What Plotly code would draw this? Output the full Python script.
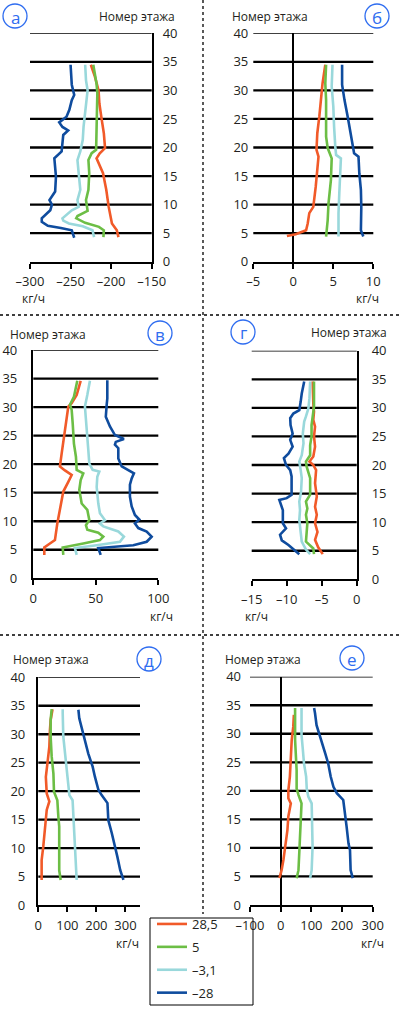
import plotly.graph_objects as go

W, H = 399, 1009
FONT = "Open Sans"
TXT = "#231f20"
BLUE_MARK = "#2f6df0"

SERIES_NAMES = ["28,5", "5", "–3,1", "–28"]
SERIES_COLORS = ["#f15a29", "#6cbe45", "#99d8db", "#0f4c9e"]

# (floor, flow kg/h) pairs per panel and series
A_285 = [(4.3,-191),(5.5,-193),(6.7,-199),(9.6,-203),(12.6,-206),(15.5,-210),(18.1,-218),(19.0,-214),(19.9,-207.5),(22.5,-209),(24.8,-211.5),(27.7,-214.5),(30.0,-215.5),(32.4,-220),(34.5,-225)]
A_5 = [(4.3,-209.5),(5.5,-209),(6.1,-215),(6.8,-232),(7.6,-243),(8.0,-241.5),(8.9,-229),(10.8,-231),(12.6,-228),(15.5,-227),(17.8,-228),(19.0,-224),(19.6,-218.5),(22.5,-218),(26.0,-218),(29.5,-217),(31.2,-218),(34.5,-222)]
A_M31 = [(4.3,-221),(5.5,-223),(6.2,-235),(6.7,-252),(7.2,-259),(7.6,-260),(9.0,-248.5),(9.6,-240),(10.8,-241.5),(12.6,-238),(15.5,-240),(17.8,-241.5),(19.3,-238),(21.3,-235),(23.6,-234),(26.6,-232),(30.0,-229),(31.8,-231),(34.5,-232)]
A_M28 = [(4.2,-245.5),(5.5,-248.5),(5.9,-262),(6.3,-278),(7.0,-285.5),(7.6,-285.5),(9.0,-275),(10.0,-273),(10.8,-276),(12.3,-269),(14.9,-268),(18.1,-270),(19.3,-261),(20.7,-260),(22.2,-259),(23.0,-253),(23.6,-260),(24.4,-264),(25.4,-255),(26.6,-251.5),(28.3,-248.5),(29.2,-245.5),(31.0,-248.5),(34.5,-250)]

B_285 = [(4.5,-0.8),(4.8,0.3),(5.5,1.6),(6.7,1.8),(8.5,2.0),(9.6,2.5),(13.1,2.8),(16.6,3.05),(18.4,3.15),(19.6,2.9),(22.5,3.0),(25.4,3.25),(28.3,3.45),(31.2,3.65),(34.5,4.0)]
B_5 = [(4.4,4.1),(7.3,4.3),(10.2,4.4),(14.3,4.7),(18.1,4.8),(19.9,4.3),(21.9,4.1),(28.3,4.1),(31.2,4.0),(34.5,4.1)]
B_M31 = [(4.4,5.65),(8.5,5.65),(12.0,5.75),(15.5,5.85),(18.1,5.95),(18.7,5.35),(20.1,5.25),(23.6,5.1),(27.2,5.0),(30.7,4.8),(34.5,4.9)]
B_M28 = [(4.4,8.75),(5.5,8.45),(9.6,8.5),(12.6,8.45),(15.5,8.25),(18.4,8.15),(19.0,7.6),(20.7,7.4),(22.5,7.2),(25.4,6.8),(28.3,6.4),(31.0,6.1),(34.5,6.1)]

V_285 = [(4.1,8.8),(5.4,8.8),(6.1,13.3),(6.7,17.3),(9.6,19.2),(13.1,21.9),(15.2,24),(16.9,28),(18.1,30.7),(18.9,25.3),(19.6,21.3),(21.9,22.7),(24.8,24.5),(27.2,26.1),(30.1,28),(30.7,30.7),(32.1,34.7),(34.6,37.9)]
V_5 = [(4.1,24),(5.4,23.5),(6.1,40),(6.7,53.3),(7.3,56),(8.0,52),(8.5,43.2),(9.3,42.1),(10.2,44.8),(12.0,43.2),(13.1,38.7),(15.5,36.8),(17.2,37.9),(18.4,40),(18.7,37.3),(19.0,34.7),(21.3,34.1),(23.6,32.5),(27.2,31.5),(29.5,30.7),(30.4,29.3),(31.8,32.5),(34.6,35.2)]
V_M31 = [(4.1,34.7),(5.3,33.3),(5.8,50.7),(6.4,69.3),(7.3,72.5),(8.2,68),(9.1,56),(9.6,53.3),(10.2,57.3),(11.4,53.3),(13.1,52),(16.0,50.7),(17.8,51.2),(18.7,52.8),(19.0,47.5),(20.1,44.8),(22.5,44),(25.4,43.2),(28.9,42.1),(30.1,41.3),(32.1,43.2),(34.6,45.3)]
V_M28 = [(4.1,53.9),(5.3,52),(5.8,80),(6.4,90.7),(7.3,94.7),(8.2,90.7),(8.8,84),(9.6,81.3),(10.3,84.8),(11.1,81.3),(12.6,78.7),(14.3,77.3),(16.4,77.3),(17.5,78.7),(18.4,80.5),(19.0,76),(19.6,70.7),(21.0,68),(22.8,68),(23.4,65.3),(23.9,66),(24.4,72.5),(25.1,65.3),(26.6,61.3),(28.3,58),(30.4,58.7),(31.5,59.2),(34.7,59.2)]

G_285 = [(4.4,-4.85),(5.6,-5.5),(6.9,-5.95),(8.3,-5.6),(9.8,-5.95),(11.3,-5.7),(12.7,-5.95),(14.5,-5.7),(16.8,-5.95),(19.1,-5.8),(20.0,-6.2),(20.6,-6.75),(21.5,-6.2),(23.2,-5.95),(25.0,-6.1),(26.7,-5.95),(27.9,-6.2),(29.3,-6.1),(30.8,-6.2),(34.6,-6.3)]
G_5 = [(4.4,-6.1),(5.4,-6.2),(6.6,-7.25),(8.0,-7.15),(9.8,-7.05),(11.3,-7.25),(12.4,-7.05),(13.6,-7.25),(14.8,-6.65),(17.7,-6.65),(19.7,-7.15),(20.6,-7.25),(21.7,-6.65),(23.5,-6.65),(25.0,-6.45),(27.0,-6.45),(29.0,-6.2),(30.2,-6.1),(34.6,-6.1)]
G_M31 = [(4.4,-6.65),(5.2,-7.25),(6.6,-7.85),(8.6,-8.0),(10.4,-8.2),(12.1,-8.1),(13.6,-8.2),(15.3,-7.95),(17.7,-7.85),(19.1,-8.0),(20.6,-8.2),(21.7,-7.85),(23.8,-7.6),(25.5,-7.7),(27.6,-7.5),(28.5,-7.25),(29.9,-6.9),(31.7,-6.75),(34.6,-6.65)]
G_M28 = [(4.4,-8.2),(5.2,-8.95),(6.0,-9.75),(6.8,-10.7),(7.8,-10.95),(8.9,-10.1),(9.8,-10.55),(12.1,-10.55),(13.3,-10.85),(13.9,-11.05),(14.2,-10.0),(14.8,-9.3),(18.0,-9.3),(19.1,-9.5),(20.0,-10.1),(21.2,-10.4),(22.0,-9.75),(23.2,-9.15),(24.4,-9.5),(25.5,-9.15),(27.0,-9.45),(28.2,-9.5),(29.0,-9.05),(29.6,-8.2),(31.1,-8.0),(32.5,-7.85),(34.6,-7.5)]

D_285 = [(4.4,11.5),(7.9,11.5),(10.2,17),(13.2,23),(15.5,26),(16.7,29),(18.2,38),(19.6,29),(22.5,26),(24.9,31),(27.8,38),(30.7,40),(32.5,42.5),(34.4,49)]
D_5 = [(4.4,77),(6.1,72),(10.8,72),(13.8,72),(15.5,69),(18.4,65.5),(19.9,54),(23.1,52),(26.1,46),(29.6,42.5),(32.5,42.5),(34.4,46)]
D_M31 = [(4.4,132),(6.4,130),(10.2,126),(12.9,123),(15.5,121),(18.4,118),(19.3,107),(21.4,103),(24.3,98),(26.6,92),(29.6,86),(33.7,84),(34.4,84)]
D_M28 = [(4.4,293),(6.1,282),(8.5,272),(10.5,264),(12.6,253),(14.9,241),(17.9,238),(19.3,218),(20.2,207),(22.5,195),(24.3,187),(26.6,172),(29.0,161),(31.3,149),(32.8,141),(34.3,138)]

E_285 = [(4.7,-4),(6.1,3),(7.9,9),(10.8,17),(13.1,22),(15.5,25),(17.8,33),(18.7,25),(20.1,25),(22.5,30),(25.4,33),(28.9,36),(31.2,41),(33.3,43)]
E_5 = [(4.7,52),(6.1,58),(9.6,61),(13.1,65),(16.6,68),(17.8,68),(19.3,58),(20.4,52),(23.6,52),(26.0,50),(28.9,47),(34.5,47)]
E_M31 = [(4.7,96),(6.1,101),(10.2,104),(13.1,102),(17.8,101),(19.0,90),(20.4,85),(22.5,83),(24.8,76),(27.4,72),(29.8,68),(34.5,68)]
E_M28 = [(4.7,235),(6.1,228),(9.6,226),(10.8,221),(13.7,215),(15.5,210),(18.4,204),(19.6,183),(20.7,172),(22.5,163),(24.8,155),(26.6,145),(29.5,128),(31.5,117),(33.6,112),(34.5,109)]

FLOOR_TICKS = [0, 5, 10, 15, 20, 25, 30, 35, 40]
GRID_FLOORS = [5, 10, 15, 20, 25, 30, 35]

PANELS = [
    dict(letter="а", data=[A_285, A_5, A_M31, A_M28], xr=[-300, -150], xt=[-300, -250, -200, -150],
         xtt=["–300", "–250", "–200", "–150"], yside="right", yline=True, ystand=6,
         px=(30, 151.7), py=(261.7, 33.3), circ=(15, 16), title=(137, 16), unit=(33, 298)),
    dict(letter="б", data=[B_285, B_5, B_M31, B_M28], xr=[-5, 10], xt=[-5, 0, 5, 10],
         xtt=["–5", "0", "5", "10"], yside="left", yline=False, ystand=4,
         px=(253.3, 373.3), py=(261.7, 33.3), circ=(377, 16), title=(270, 16), unit=(367, 298)),
    dict(letter="в", data=[V_285, V_5, V_M31, V_M28], xr=[0, 100], xt=[0, 50, 100],
         xtt=["0", "50", "100"], yside="left", yline=True, ystand=11,
         px=(33.3, 158.3), py=(578.3, 350), circ=(160, 333), title=(48, 334), unit=(161, 616)),
    dict(letter="г", data=[G_285, G_5, G_M31, G_M28], xr=[-15, 0], xt=[-15, -10, -5, 0],
         xtt=["–15", "–10", "–5", "0"], yside="right", yline=True, ystand=10,
         px=(251.7, 356.7), py=(579.3, 350.7), circ=(243, 332), title=(349, 333), unit=(256, 616)),
    dict(letter="д", data=[D_285, D_5, D_M31, D_M28], xr=[0, 350], xt=[0, 100, 200, 300],
         xtt=["0", "100", "200", "300"], yside="left", yline=True, ystand=8,
         px=(38.3, 140), py=(905, 677.3), circ=(149, 659), title=(51, 659), unit=(127, 943)),
    dict(letter="е", data=[E_285, E_5, E_M31, E_M28], xr=[-100, 300], xt=[-100, 0, 100, 200, 300],
         xtt=["–100", "0", "100", "200", "300"], yside="left", yline=False, ystand=8,
         px=(250, 372.7), py=(905, 676.7), circ=(352, 658), title=(263, 659), unit=(372, 943)),
]


def fx(p):
    return p / W


def fy(p):
    return 1 - p / H


fig = go.Figure()
layout = dict(
    width=W, height=H, margin=dict(l=0, r=0, t=0, b=0, pad=0, autoexpand=False),
    paper_bgcolor="white", plot_bgcolor="rgba(0,0,0,0)",
    font=dict(family=FONT, size=13, color=TXT),
    showlegend=True,
)
shapes = []
annotations = []

for i, p in enumerate(PANELS):
    n = i + 1
    xa = "xaxis" if n == 1 else f"xaxis{n}"
    ya = "yaxis" if n == 1 else f"yaxis{n}"
    xref = "x" if n == 1 else f"x{n}"
    yref = "y" if n == 1 else f"y{n}"
    for s, series in enumerate(p["data"]):
        floors = [pt[0] for pt in series]
        flows = [pt[1] for pt in series]
        fig.add_trace(go.Scatter(
            x=flows, y=floors, mode="lines", xaxis=xref, yaxis=yref,
            line=dict(color=SERIES_COLORS[s], width=2.6),
            name=SERIES_NAMES[s], legendgroup=SERIES_NAMES[s],
            showlegend=(i == 0), hoverinfo="skip",
        ))
    layout[xa] = dict(
        domain=[fx(p["px"][0]), fx(p["px"][1])], range=p["xr"], anchor=yref,
        tickmode="array", tickvals=p["xt"], ticktext=p["xtt"],
        showgrid=False, showline=True, linecolor="black", linewidth=2,
        ticks="outside", ticklen=5, tickwidth=2, tickcolor="black",
        zeroline=not p["yline"], zerolinecolor="black", zerolinewidth=2.2,
        ticklabelstandoff=2, tickfont=dict(size=13), automargin=False,
        fixedrange=True,
    )
    layout[ya] = dict(
        domain=[fy(p["py"][0]), fy(p["py"][1])], range=[0, 40], anchor=xref,
        side=p["yside"], tickmode="array", tickvals=FLOOR_TICKS,
        showgrid=False, zeroline=False,
        showline=p["yline"], linecolor="black", linewidth=2.4,
        ticks="", ticklabelstandoff=p["ystand"], tickfont=dict(size=13),
        automargin=False, fixedrange=True,
    )
    for gf in GRID_FLOORS:
        shapes.append(dict(type="line", xref=f"{xref} domain", yref=yref,
                           x0=0, x1=1, y0=gf, y1=gf, layer="below",
                           line=dict(color="black", width=2.3)))
    shapes.append(dict(type="line", xref=f"{xref} domain", yref=yref,
                       x0=0, x1=1, y0=40, y1=40, layer="below",
                       line=dict(color="black", width=1.5)))
    cx, cy = p["circ"]
    r = 12
    shapes.append(dict(type="circle", xref="paper", yref="paper",
                       x0=fx(cx - r), x1=fx(cx + r), y0=fy(cy + r), y1=fy(cy - r),
                       line=dict(color=BLUE_MARK, width=1.3)))
    annotations.append(dict(x=fx(cx), y=fy(cy + 1), xref="paper", yref="paper",
                            text=p["letter"], showarrow=False,
                            font=dict(size=17, color=BLUE_MARK),
                            xanchor="center", yanchor="middle"))
    tx, ty = p["title"]
    annotations.append(dict(x=fx(tx), y=fy(ty), xref="paper", yref="paper",
                            text="Номер этажа", showarrow=False,
                            font=dict(size=12, color=TXT),
                            xanchor="center", yanchor="middle"))
    ux, uy = p["unit"]
    annotations.append(dict(x=fx(ux), y=fy(uy), xref="paper", yref="paper",
                            text="кг/ч", showarrow=False,
                            font=dict(size=12, color=TXT),
                            xanchor="center", yanchor="middle"))

dot = dict(color="black", width=1.3, dash="dot")
shapes.append(dict(type="line", xref="paper", yref="paper",
                   x0=fx(203), x1=fx(203), y0=fy(0), y1=fy(914), line=dot))
shapes.append(dict(type="line", xref="paper", yref="paper",
                   x0=0, x1=1, y0=fy(315), y1=fy(315), line=dot))
shapes.append(dict(type="line", xref="paper", yref="paper",
                   x0=0, x1=1, y0=fy(635), y1=fy(635), line=dot))
shapes.append(dict(type="rect", xref="paper", yref="paper",
                   x0=fx(150), x1=fx(253), y0=fy(1005), y1=fy(918),
                   line=dict(color="black", width=1), fillcolor="white", layer="below"))

layout["shapes"] = shapes
layout["annotations"] = annotations
layout["legend"] = dict(x=fx(152), y=fy(909), xanchor="left", yanchor="top",
                        bgcolor="rgba(0,0,0,0)", borderwidth=0,
                        font=dict(size=13, color=TXT), tracegroupgap=3,
                        itemwidth=30, traceorder="grouped")
fig.update_layout(**layout)
fig.write_html(
    "out.html",
    config={"displayModeBar": False, "staticPlot": True},
    post_script="document.body.style.margin='0';document.body.style.padding='0';"
                "document.documentElement.style.overflow='hidden';",
)
